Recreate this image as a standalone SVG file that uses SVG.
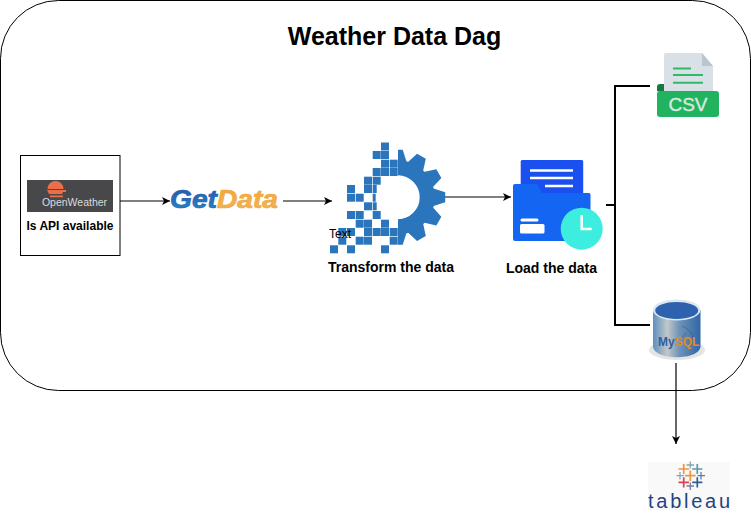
<svg xmlns="http://www.w3.org/2000/svg" xmlns:xlink="http://www.w3.org/1999/xlink" width="751" height="526" viewBox="0 0 751 526">
<style>
text{font-family:"Liberation Sans",Arial,sans-serif}
.lbl{font-size:12px;font-weight:700;fill:#000;text-anchor:middle}
.big{font-size:14px}
.c{fill:none;stroke:#000;stroke-width:1.2}
.t{fill:none;stroke:#000;stroke-width:2}
.sq{fill:#2a75bb}
.x{fill:none;stroke-width:1.7}
.xs{fill:none;stroke-width:1.3}
</style>
<defs>
<marker id="a" markerUnits="userSpaceOnUse" markerWidth="10" markerHeight="10" refX="8" refY="4" orient="auto"><path d="M0 0L8 4L0 8L2 4Z" fill="#000"/></marker>
<linearGradient id="cyl" x1="0" x2="1" y1="0" y2="0"><stop offset="0" stop-color="#5d8fc0"/><stop offset=".3" stop-color="#c2c8c8"/><stop offset=".55" stop-color="#6f94b8"/><stop offset="1" stop-color="#2f66a6"/></linearGradient>
<linearGradient id="gb" x1="0" x2="0" y1="0" y2="1"><stop offset="0" stop-color="#2a4fa8"/><stop offset="1" stop-color="#1f8fd0"/></linearGradient>
<linearGradient id="go" x1="0" x2="0" y1="0" y2="1"><stop offset="0" stop-color="#f2a63a"/><stop offset="1" stop-color="#f4b555"/></linearGradient>
<clipPath id="half"><rect x="398" y="140" width="60" height="120"/></clipPath>
<polygon id="tooth" points="35,-9 47.500,-5 47.500,5 35,9" fill="#2a75bb"/>
</defs>
<rect id="frame" x="0.500" y="0.500" width="750" height="390" rx="58" ry="58" fill="#fff" stroke="#000" stroke-width="1"/>
<text id="title" x="394.500" y="45" font-size="25" font-weight="700" text-anchor="middle">Weather Data Dag</text>
<g id="connectors">
<path class="c" d="M120 201H170" marker-end="url(#a)"/>
<path class="c" d="M283 201H332" marker-end="url(#a)"/>
<path class="c" d="M445 197H511" marker-end="url(#a)"/>
<path class="t" d="M650 86H615V325H650"/>
<path class="t" d="M606 205H615"/>
<path class="c" d="M676 363V444" marker-end="url(#a)"/>
</g>
<g id="api">
<rect x="20.500" y="155.500" width="99.500" height="100" fill="#fff" stroke="#000" stroke-width="1"/>
<rect x="27" y="180" width="86" height="32" fill="#48484a"/>
<path d="M47.500 189a8 8 0 0 1 16 0z M47 190h19v2h-3l-1 2h-13z M50 195.500h13v1.700h-13z" fill="#eb6e4b"/>
<text x="74.500" y="206" font-size="10.500" fill="#dcdcdc" text-anchor="middle">OpenWeather</text>
<text class="lbl" x="70" y="230">Is API available</text>
</g>
<g id="getdata">
<text x="170" y="208" font-size="26" font-weight="700" font-style="italic" stroke-width=".7" textLength="108" lengthAdjust="spacingAndGlyphs"><tspan fill="url(#gb)" stroke="#2a5fb0">Get</tspan><tspan fill="url(#go)" stroke="#f2a63a">Data</tspan></text>
</g>
<g id="transform">
<g clip-path="url(#half)"><g transform="translate(397.700 197.300)">
<circle r="29.500" fill="none" stroke="#2a75bb" stroke-width="15"/>
<use xlink:href="#tooth" href="#tooth"/><use xlink:href="#tooth" href="#tooth" transform="rotate(30)"/><use xlink:href="#tooth" href="#tooth" transform="rotate(60)"/><use xlink:href="#tooth" href="#tooth" transform="rotate(90)"/><use xlink:href="#tooth" href="#tooth" transform="rotate(-30)"/><use xlink:href="#tooth" href="#tooth" transform="rotate(-60)"/><use xlink:href="#tooth" href="#tooth" transform="rotate(-90)"/>
</g></g>
<g>
<rect class="sq" x="381" y="142.500" width="8" height="8"/>
<rect class="sq" x="372.700" y="151" width="8" height="8"/><rect class="sq" x="381" y="151" width="8" height="8"/>
<rect class="sq" x="381" y="159.700" width="8" height="8"/><rect class="sq" x="389.700" y="159.700" width="8" height="8"/>
<rect class="sq" x="372.700" y="168" width="8" height="8"/><rect class="sq" x="381" y="168" width="8" height="8"/><rect class="sq" x="389.700" y="168" width="8" height="8"/>
<rect class="sq" x="364" y="176.700" width="8" height="8"/><rect class="sq" x="372.700" y="176.700" width="8" height="8"/>
<rect class="sq" x="347" y="185" width="8" height="8"/><rect class="sq" x="364" y="185" width="8" height="8"/><rect class="sq" x="372.700" y="185" width="4" height="8"/>
<rect class="sq" x="347" y="193.700" width="8" height="8"/><rect class="sq" x="355.700" y="193.700" width="8" height="8"/><rect class="sq" x="372.700" y="193.700" width="3" height="8"/>
<rect class="sq" x="364" y="202.300" width="8" height="8"/><rect class="sq" x="372.700" y="202.300" width="4" height="8"/>
<rect class="sq" x="347" y="211" width="8" height="8"/><rect class="sq" x="355.700" y="211" width="8" height="8"/><rect class="sq" x="372.700" y="211" width="8" height="8"/>
<rect class="sq" x="355.700" y="219.700" width="8" height="8"/><rect class="sq" x="364" y="219.700" width="8" height="8"/><rect class="sq" x="381" y="219.700" width="8" height="8"/>
<rect class="sq" x="338.300" y="228" width="8" height="8"/><rect class="sq" x="347" y="228" width="8" height="8"/><rect class="sq" x="364" y="228" width="8" height="8"/><rect class="sq" x="372.700" y="228" width="8" height="8"/><rect class="sq" x="381" y="228" width="8" height="8"/><rect class="sq" x="389.700" y="228" width="8" height="8"/>
<rect class="sq" x="338.300" y="236.700" width="8" height="8"/><rect class="sq" x="355.700" y="236.700" width="8" height="8"/><rect class="sq" x="364" y="236.700" width="8" height="8"/><rect class="sq" x="389.700" y="236.700" width="8" height="8"/>
<rect class="sq" x="330" y="245.300" width="8" height="8"/><rect class="sq" x="347" y="245.300" width="8" height="8"/><rect class="sq" x="381" y="245.300" width="8" height="8"/>
</g>
<text x="329" y="238" font-size="12">Text</text>
<text class="lbl big" x="391" y="272">Transform the data</text>
</g>
<g id="load">
<rect x="520.700" y="160" width="62.500" height="35" rx="1.500" fill="#1a4ff0"/>
<path d="M530 170.500H573M530 178H573M545 186H573" stroke="#fff" stroke-width="2.500" fill="none"/>
<path d="M513 186a2 2 0 0 1 2-2H537L542 193H589a1.500 1.500 0 0 1 1.500 1.500V239a2 2 0 0 1-2 2H515a2 2 0 0 1-2-2z" fill="#1466f2"/>
<rect x="520.500" y="218.500" width="18" height="3" rx="1.500" fill="#fff"/>
<rect x="520" y="224" width="24.500" height="9.500" rx="1.500" fill="#fff"/>
<circle cx="581.700" cy="228.700" r="21" fill="#3deee0"/>
<path d="M581.700 215V229H591.700" stroke="#fff" stroke-width="2.500" fill="none"/>
<text class="lbl big" x="551.500" y="272.500">Load the data</text>
</g>
<g id="csv">
<path d="M657 91v-4a3 3 0 0 1 3-3h6v9z" fill="#157a42"/>
<path d="M666 53H702L713 66V100H664V55a2 2 0 0 1 2-2z" fill="#d9e1e6"/>
<path d="M702 53L713 66H702z" fill="#b9c6ce"/>
<path d="M673 68.500H691M673 75H703M673 82.700H703" stroke="#2dbb6a" stroke-width="2" fill="none"/>
<rect x="657" y="91" width="62" height="26" rx="3" fill="#21b35f"/>
<text x="688" y="111" font-size="19" fill="#d9e8df" stroke="#d9e8df" stroke-width=".4" text-anchor="middle">CSV</text>
</g>
<g id="mysql">
<ellipse cx="677" cy="350" rx="28" ry="10" fill="#e4e4e4"/>
<path d="M653 310V346C653 361 700.500 361 700.500 346V310Z" fill="url(#cyl)"/>
<ellipse cx="676.700" cy="310" rx="23.800" ry="10.500" fill="#dbe8f3"/>
<ellipse cx="676.700" cy="310.500" rx="21.500" ry="8.500" fill="#2f62ae"/>
<path d="M682 326C688 328 692 333 694 339M686 333L682 338" stroke="#3d5f88" stroke-width=".7" fill="none"/>
<text x="658" y="346" font-size="12" font-weight="700" fill="#2f5f9e">My<tspan fill="#e58a1f">SQL</tspan></text>
</g>
<g id="tableau">
<rect x="648" y="462" width="82" height="48" fill="#f9f9f9"/>
<path class="x" stroke="#f0953a" d="M685 475.700H695.600M690.300 470.500V481M678.500 469H689M683.700 464V474"/>
<path class="x" stroke="#5d97ab" d="M692.200 469H702.400M697.300 464V474"/>
<path class="xs" stroke="#7fa8b5" d="M686.500 465H694M690.300 461.500V468.500"/>
<path class="xs" stroke="#8aa3b8" d="M676.500 475.700H684M680 472V479.500"/>
<path class="xs" stroke="#5b7fa8" d="M697.500 475.700H705M701 472V479.500"/>
<path class="x" stroke="#d8424f" d="M678.500 482.300H689M683.700 477.300V487.500"/>
<path class="x" stroke="#2d5f92" d="M692.200 482.300H702.400M697.300 477.300V487.500"/>
<path class="xs" stroke="#6f7fa3" d="M686.500 486H694M690.300 482.500V490"/>
<text x="648" y="507.500" font-size="20" fill="#1f447f" textLength="82" lengthAdjust="spacing">tableau</text>
</g>
</svg>
